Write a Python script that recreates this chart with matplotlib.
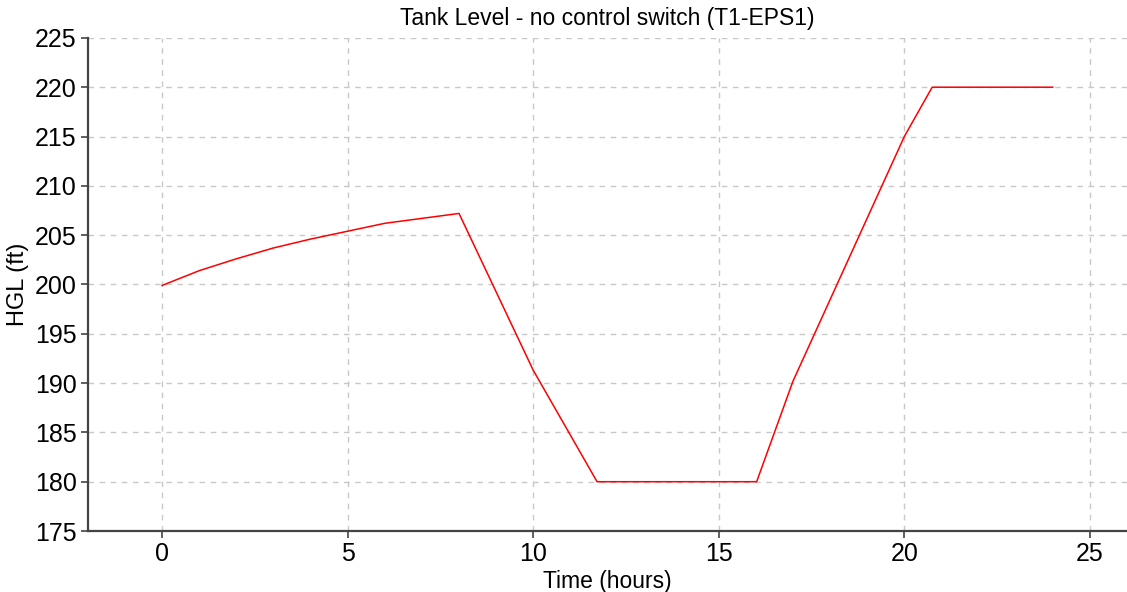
import matplotlib.pyplot as plt

plt.rcParams['font.family'] = ['Liberation Sans', 'DejaVu Sans']

# Tank T1 hydraulic grade over the 24 h extended period run
hours = [0, 1, 2, 3, 4, 5, 6, 7, 8, 10, 11.72, 16.02, 17, 20, 20.75, 24]
hgl = [199.9, 201.4, 202.6, 203.7, 204.6, 205.4, 206.2, 206.7, 207.2,
       191.3, 180, 180, 190.2, 215.0, 220, 220]

x_ticks = [0, 5, 10, 15, 20, 25]
y_ticks = [175, 180, 185, 190, 195, 200, 205, 210, 215, 220, 225]

fig = plt.figure(figsize=(11.27, 5.92), dpi=100)
ax = fig.add_axes([0.078, 0.103, 0.922, 0.833])

ax.plot(hours, hgl, '-', color='#ff0000', linewidth=1.1)

ax.set_xlim(-2, 26)
ax.set_ylim(175, 225)
ax.set_xticks(x_ticks)
ax.set_yticks(y_ticks)
ax.grid(True, linestyle=(0, (4, 4)), color='#c8c8c8', linewidth=1)

for s in ['top', 'right']:
    ax.spines[s].set_visible(False)
for s in ['left', 'bottom']:
    ax.spines[s].set_color('#444444')
    ax.spines[s].set_linewidth(1.6)

ax.tick_params(axis='both', labelsize=18, length=5, width=1.2, color='#444444', pad=3)
ax.set_title('Tank Level - no control switch (T1-EPS1)', fontsize=16.5, pad=9)
ax.set_xlabel('Time (hours)', fontsize=16.5, labelpad=2.5)
ax.set_ylabel('HGL (ft)', fontsize=17, labelpad=4)

fig.savefig('out.png', dpi=100)
